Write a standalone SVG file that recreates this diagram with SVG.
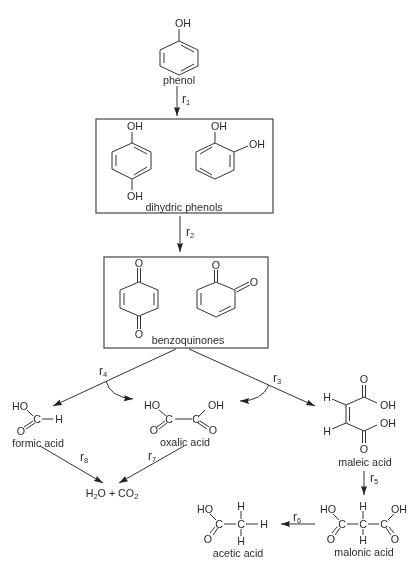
<svg xmlns="http://www.w3.org/2000/svg" width="418" height="575" viewBox="0 0 418 575">
<style>
text{font-family:"Liberation Sans",Arial,sans-serif;font-size:10.7px;fill:#2b2b2b;text-anchor:middle}
.b{fill:none;stroke:#333;stroke-width:1}
.box{fill:none;stroke:#444;stroke-width:1.2}
.c{fill:none;stroke:#333;stroke-width:1}
.a{marker-end:url(#ah)}
.sub{font-size:7.5px}
.r{font-size:12px}
</style>
<defs>
<marker id="ah" markerUnits="userSpaceOnUse" markerWidth="10" markerHeight="8" refX="9" refY="3" orient="auto"><path d="M0,0L9,3L0,6L1,3Z" fill="#222"/></marker>
<filter id="s" x="-5%" y="-5%" width="110%" height="110%"><feGaussianBlur stdDeviation="0.35"/></filter>
</defs>
<rect width="418" height="575" fill="#fff"/>
<g filter="url(#s)">
<g id="connectors">
<path class="c a" d="M177,86V116"/>
<path class="c a" d="M180,216V252"/>
<path class="c a" d="M176,349L53,406"/>
<path class="c a" d="M189,349L315,406"/>
<path class="c a" d="M106,381Q110,397 133,399"/>
<path class="c a" d="M269,385Q262,401 240,401"/>
<path class="c a" d="M40,446L103,483"/>
<path class="c a" d="M184,446L119,483"/>
<path class="c a" d="M364,471V495"/>
<path class="c a" d="M315,524H281"/>
<text class="r" x="186" y="103">r<tspan class="sub" dy="2">1</tspan></text>
<text class="r" x="190" y="236">r<tspan class="sub" dy="2">2</tspan></text>
<text class="r" x="277" y="382">r<tspan class="sub" dy="2">3</tspan></text>
<text class="r" x="103" y="375">r<tspan class="sub" dy="2">4</tspan></text>
<text class="r" x="374" y="482">r<tspan class="sub" dy="2">5</tspan></text>
<text class="r" x="297" y="521">r<tspan class="sub" dy="2">6</tspan></text>
<text class="r" x="152" y="460">r<tspan class="sub" dy="2">7</tspan></text>
<text class="r" x="84" y="461">r<tspan class="sub" dy="2">8</tspan></text>
</g>
<g id="phenol">
<path class="b" d="M179,29V41L198,50V66L179,75L160,66V50L179,41M181,45L194,52M194,64L181,71M164,53V63"/>
<text x="183" y="27">OH</text>
<text x="179" y="84">phenol</text>
</g>
<g id="dihydric-phenols">
<rect class="box" x="96" y="119" width="177" height="94"/>
<path class="b" d="M132,132V143L151,152V169L132,179L112,169V152L132,143M134,147L147,154M147,167L134,175M116,155V166M132,179V190"/>
<text x="135" y="130">OH</text>
<text x="135" y="200">OH</text>
<path class="b" d="M215,132V143L234,152V170L215,179L196,170V152L215,143M212,147L200,154M230,155V167M212,175L200,168M234,152L248,146"/>
<text x="219" y="130">OH</text>
<text x="257" y="148">OH</text>
<text x="184" y="211">dihydric phenols</text>
</g>
<g id="benzoquinones">
<rect class="box" x="104" y="257" width="164" height="91"/>
<path class="b" d="M139,282L158,290V308L139,316L120,308V290L139,282M124,293V305M154,293V305M137.500,268V282M140.500,268V282M137.500,316V329M140.500,316V329"/>
<text x="139" y="267">O</text>
<text x="139" y="338">O</text>
<path class="b" d="M216,282L235,290V308L216,317L197,308V290L216,282M201,293V305M219,312L231,306M214.500,270V282M217.500,270V282M235,289L249,282M236.500,292L250,285"/>
<text x="216" y="269">O</text>
<text x="254" y="286">O</text>
<text x="188" y="344">benzoquinones</text>
</g>
<g id="formic-acid">
<path class="b" d="M27,410L33,416M42,419H53M33,421L24,427M35,423L26,429"/>
<text x="20" y="410">HO</text>
<text x="37" y="423">C</text>
<text x="59" y="423">H</text>
<text x="21" y="435">O</text>
<text x="38" y="446.500">formic acid</text>
</g>
<g id="oxalic-acid">
<path class="b" d="M159,410L166,416M175,419H192M205,410L199,416M165,421L157,427M167,423L159,429M200,421L209,427M198,423L207,429"/>
<text x="152" y="409">HO</text>
<text x="169" y="423">C</text>
<text x="196" y="423">C</text>
<text x="216" y="409">OH</text>
<text x="154" y="434">O</text>
<text x="213" y="434">O</text>
<text x="185" y="445.500">oxalic acid</text>
</g>
<g id="h2o-co2">
<text x="112" y="497">H<tspan class="sub" dy="2">2</tspan><tspan dy="-2">O + CO</tspan><tspan class="sub" dy="2">2</tspan></text>
</g>
<g id="maleic-acid">
<path class="b" d="M332,399L346,405V423L332,429M349.500,407V421M346,405L364,397L377,403M362.500,397V385M365.500,397V385M346,423L364,431L377,425M362.500,431V443M365.500,431V443"/>
<text x="327" y="401">H</text>
<text x="327" y="435">H</text>
<text x="364" y="383">O</text>
<text x="388" y="409">OH</text>
<text x="388" y="427">OH</text>
<text x="364" y="453">O</text>
<text x="365" y="465.500">maleic acid</text>
</g>
<g id="malonic-acid">
<path class="b" d="M333,514L339,520M347,524H358M368,524H379M363,511V519M363,529V535M394,514L388,520M340,528L335,535M337,527L332,533M386,528L391,535M389,527L394,533"/>
<text x="328" y="513">HO</text>
<text x="342" y="528">C</text>
<text x="363" y="528">C</text>
<text x="384" y="528">C</text>
<text x="363" y="510">H</text>
<text x="363" y="544">H</text>
<text x="399" y="513">OH</text>
<text x="331" y="543">O</text>
<text x="395" y="543">O</text>
<text x="364" y="556">malonic acid</text>
</g>
<g id="acetic-acid">
<path class="b" d="M210,514L216,520M224,524H236M241,511V519M241,529V536M246,524H258M218,528L213,535M215,527L210,533"/>
<text x="205" y="513">HO</text>
<text x="219" y="528">C</text>
<text x="241" y="528">C</text>
<text x="241" y="510">H</text>
<text x="241" y="545">H</text>
<text x="264" y="528">H</text>
<text x="208" y="543">O</text>
<text x="238" y="556.500">acetic acid</text>
</g>
</g>
</svg>
